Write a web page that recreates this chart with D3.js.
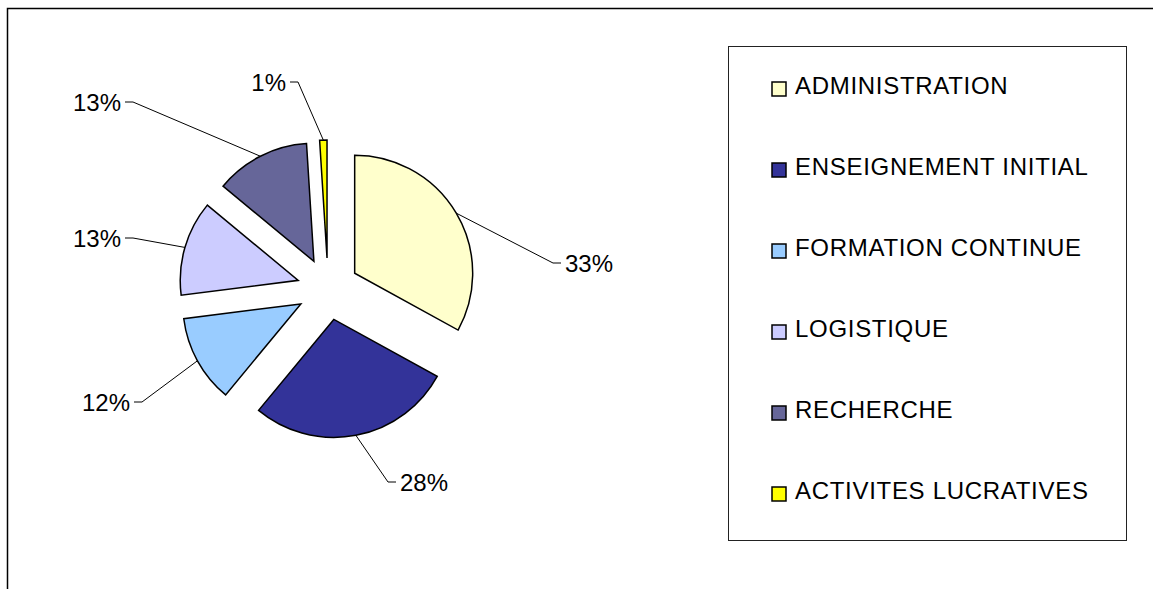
<!DOCTYPE html>
<html>
<head>
<meta charset="utf-8">
<script src="https://cdn.jsdelivr.net/npm/d3@7"></script>
<style>
  html, body { margin: 0; padding: 0; background: #fff; }
  svg { display: block; }
  text { font-family: "Liberation Sans", Arial, sans-serif; }
</style>
</head>
<body>
<svg id="chart" width="1153" height="589"></svg>
<script>
// ---- data ----
const categories = ["ADMINISTRATION", "ENSEIGNEMENT INITIAL", "FORMATION CONTINUE", "LOGISTIQUE", "RECHERCHE", "ACTIVITES LUCRATIVES"];
const values = [33, 28, 12, 13, 13, 1];
const percentLabels = ["33%", "28%", "12%", "13%", "13%", "1%"];
const colors = ["#FFFFCC", "#333399", "#99CCFF", "#CCCCFF", "#666699", "#FFFF00"];

// ---- layout ----
const W = 1153, H = 589;
const cx = 328, cy = 289, R = 118, explode = 31;
// elbow of each leader line, relative to pie centre
const labelElbows = [[225, -26], [60, 193], [-186, 113], [-195, -51], [-195, -187], [-30, -207]];

const svg = d3.select("#chart");

// outer frame (extends beyond the visible area)
svg.append("rect")
  .attr("x", 7.5).attr("y", 8.5)
  .attr("width", W + 20).attr("height", H + 20)
  .attr("fill", "#fff").attr("stroke", "#000").attr("stroke-width", 1.5);

const pie = d3.pie().sort(null).value(d => d)(values);
const arc = d3.arc().innerRadius(0).outerRadius(R);

const g = svg.append("g").attr("transform", `translate(${cx},${cy})`);

pie.forEach((p, i) => {
  const mid = (p.startAngle + p.endAngle) / 2;
  const ox = explode * Math.sin(mid), oy = -explode * Math.cos(mid);
  g.append("path")
    .attr("d", arc(p))
    .attr("transform", `translate(${ox},${oy})`)
    .attr("fill", colors[i])
    .attr("stroke", "#000")
    .attr("stroke-width", 1.5)
    .attr("stroke-linejoin", "miter");

  // leader line from arc mid-point to label
  const ax = ox + R * Math.sin(mid), ay = oy - R * Math.cos(mid);
  const [ex, ey] = labelElbows[i];
  const right = ex > ax;
  const tx = right ? ex + 8 : ex - 8;
  g.append("polyline")
    .attr("points", `${ax},${ay} ${ex},${ey} ${tx},${ey}`)
    .attr("fill", "none")
    .attr("stroke", "#000")
    .attr("stroke-width", 1);
  g.append("text")
    .attr("x", right ? tx + 4 : tx - 4)
    .attr("y", ey + 8.5)
    .attr("text-anchor", right ? "start" : "end")
    .attr("font-size", 24)
    .attr("fill", "#000")
    .text(percentLabels[i]);
});

// legend
const lg = svg.append("g");
lg.append("rect")
  .attr("x", 728.5).attr("y", 46.5)
  .attr("width", 398).attr("height", 494)
  .attr("fill", "#fff").attr("stroke", "#222").attr("stroke-width", 1);

const ly = d3.scalePoint().domain(categories).range([94, 499]);
categories.forEach((c, i) => {
  const y = ly(c);
  lg.append("rect")
    .attr("x", 772).attr("y", y - 12)
    .attr("width", 14).attr("height", 14)
    .attr("fill", colors[i]).attr("stroke", "#000").attr("stroke-width", 1.5);
  lg.append("text")
    .attr("x", 795).attr("y", y)
    .attr("font-size", 24)
    .attr("letter-spacing", 0.7)
    .attr("fill", "#000")
    .text(c);
});
</script>
</body>
</html>
